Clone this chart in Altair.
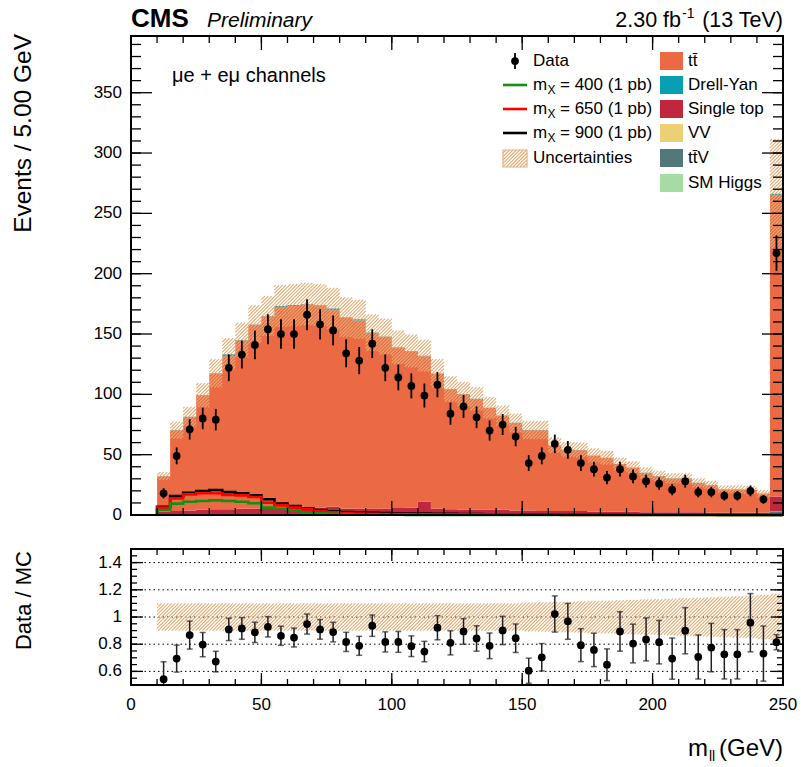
import altair as alt
import pandas as pd

# ---------------- values ----------------
BIN_LOW = list(range(10, 250, 5))          # 48 bins of 5 GeV, last one is the overflow bin
BIN_WIDTH = 5

DATA = [18, 49, 71, 80, 79, 122, 133, 141, 154, 150, 150, 166, 158, 153, 134, 128,
        142, 122, 114, 107, 99, 108, 84, 90, 81, 70, 75, 65, 43, 49, 59, 54, 43, 38,
        31, 38, 32, 28, 26, 21, 28, 19, 19, 16, 16, 20, 13, 217]

RATIO = [0.543, 0.694, 0.867, 0.797, 0.672, 0.909, 0.916, 0.887, 0.928, 0.862,
         0.849, 0.948, 0.909, 0.889, 0.817, 0.788, 0.936, 0.817, 0.817, 0.785,
         0.746, 0.921, 0.81, 0.894, 0.842, 0.788, 0.901, 0.844, 0.605, 0.704,
         1.022, 0.968, 0.793, 0.758, 0.649, 0.894, 0.805, 0.835, 0.815, 0.694,
         0.899, 0.706, 0.775, 0.726, 0.726, 0.958, 0.731, 0.815]

TTBAR = [29.4, 66.9, 77.4, 94.9, 112.4, 126.9, 139.4, 152.4, 159.4, 165.9,
         167.9, 168.9, 167.4, 162.9, 158.4, 155.9, 144.9, 142.4, 132.9, 129.4,
         120.4, 111.9, 99.4, 95.9, 91.9, 84.4, 77.9, 72.4, 66.4, 66.9,
         54.4, 50.9, 50.4, 46.4, 44.4, 39.4, 36.4, 32.5, 29.9, 27.9,
         27.9, 24.2, 22.8, 19.4, 19.4, 18.9, 15.9, 249.3]
DRELL_YAN = [0.2, 0.2, 0.2, 0.2, 0.3, 1.5, 0.3, 0.3, 0.3, 1.5, 0.8, 0.3, 0.3, 1.5, 0.3,
             1, 1, 0.3, 0.3, 0.3, 0.3, 0.2, 0.2, 0.2, 0.2, 0.2, 0.2, 0.2, 0.2, 0.2,
             0.2, 0.2, 0.2, 0.2, 0.2, 0.2, 0.2, 0.2, 0.2, 0.2, 0.2, 0.2, 0.2, 0.2,
             0.2, 0.2, 0.2, 1.5]
SINGLE_TOP = [2.5, 3, 3.5, 4, 4.5, 4.5, 5, 5, 5, 5.5, 5, 5.5, 6, 6.5, 5, 5, 5, 5, 5.5, 6,
              11, 5, 4.5, 4, 4, 4, 4, 3.5, 3.5, 3, 3, 3, 3, 2.5, 2.5, 2.5, 2.5, 2, 2, 2,
              2, 2, 1.5, 1.5, 1.5, 1.5, 1.5, 12.5]
TTV = [0.15] * 47 + [2.5]
VV = [0.08] * 47 + [0.3]
SM_HIGGS = [0.04] * 47 + [0.1]

REL_UNC = [0.1] * 28 + [0.105, 0.107, 0.11, 0.112, 0.115, 0.118, 0.12, 0.123, 0.126,
                         0.129, 0.132, 0.135, 0.138, 0.141, 0.144, 0.148, 0.151, 0.155,
                         0.163, 0.17]

SIG_400 = [4.1, 9.4, 11, 11.6, 12.1, 11.6, 11, 9.7, 6.1, 5.2, 3.9, 1.9, 1.4, 0.9, 0.6,
           0.4, 0.3, 0.2, 0.2, 0.1, 0.1, 0.1, 0.1, 0.1, 0.1, 0.1, 0.1, 0.1,
           0.05, 0.05, 0.05, 0.05, 0.05, 0.05, 0.05, 0.05, 0.05, 0.05,
           0.05, 0.05, 0.05, 0.05, 0.05, 0.05, 0.05, 0.05, 0.05, 0.05]
SIG_650 = [6.1, 13.8, 17.1, 18, 18, 16.6, 16.3, 14.9, 10.2, 8, 6.1, 4.7, 3.3, 2.2, 1.6,
           1.2, 1, 0.8, 0.7, 0.6, 0.5, 0.4, 0.4, 0.3, 0.3, 0.3, 0.2, 0.2, 0.2, 0.2, 0.2,
           0.1, 0.1, 0.1, 0.1, 0.1, 0.1, 0.1, 0.1, 0.1, 0.1, 0.1, 0.1, 0.1, 0.1, 0.1,
           0.1, 0.1]
SIG_900 = [6.9, 15.7, 18.5, 19.9, 20.7, 19, 18, 16.3, 13, 9.4, 7.5, 5.5, 4.1, 3, 2.5,
           2, 1.8, 1.6, 1.4, 1.2, 1.1, 1, 0.9, 0.8, 0.7, 0.6, 0.5, 0.5, 0.4, 0.4,
           0.4, 0.3, 0.3, 0.3, 0.3, 0.3, 0.2, 0.2, 0.2, 0.2, 0.2, 0.2, 0.2, 0.1, 0.1,
           0.1, 0.1, 0.1]

PROCESS_NAMES = ["SM Higgs", "ttV", "VV", "Single top", "ttbar", "Drell-Yan"]  # bottom first
PROCESS_VALUES = [SM_HIGGS, TTV, VV, SINGLE_TOP, TTBAR, DRELL_YAN]
PROCESS_COLORS = ["#A6DBA6", "#527879", "#EBD174", "#C0273E", "#EC6A43", "#06A0B2"]

Y_MAJOR = [0, 50, 100, 150, 200, 250, 300, 350]
Y_LABELS = ["0", "50", "100", "150", "200", "250", "300", "350"]
Y_MINOR = list(range(0, 400, 10))
X_MAJOR = [0, 50, 100, 150, 200, 250]
X_LABELS = ["0", "50", "100", "150", "200", "250"]
X_MINOR = list(range(0, 251, 10))
R_MAJOR = [0.6, 0.8, 1.0, 1.2, 1.4]
R_LABELS = ["0.6", "0.8", "1", "1.2", "1.4"]
R_MINOR = [0.5, 0.55, 0.6, 0.65, 0.7, 0.75, 0.8, 0.85, 0.9, 0.95, 1.0, 1.05, 1.1, 1.15,
           1.2, 1.25, 1.3, 1.35, 1.4, 1.45, 1.5]

# ---------------- layout / style ----------------
FONT = "Liberation Sans"
W, H1, H2 = 652, 479, 136
X_DOM, Y_DOM, R_DOM = [0, 250], [0, 397], [0.5, 1.5]
X_SCALE = alt.Scale(domain=X_DOM, nice=False, zero=False)
Y_TOP = alt.Scale(domain=Y_DOM, nice=False, zero=False)
Y_RAT = alt.Scale(domain=R_DOM, nice=False, zero=False)
HATCH = "#E4AC76"
HATCH_STEP = 3.4   # px between hatch lines (horizontal)

# ---------------- tables ----------------
rows = []
cum = [0.0] * len(BIN_LOW)
for name, vals in zip(PROCESS_NAMES, PROCESS_VALUES):
    for i, v in enumerate(vals):
        rows.append(dict(proc=name, x=BIN_LOW[i], y0=cum[i], y1=cum[i] + v))
        cum[i] += v
    rows.append(dict(proc=name, x=BIN_LOW[-1] + BIN_WIDTH, y0=rows[-1]["y0"], y1=rows[-1]["y1"]))
stack_df = pd.DataFrame(rows)
total = cum

band_top_rects = [(lo, lo + BIN_WIDTH, t * (1 - u), t * (1 + u))
                  for lo, t, u in zip(BIN_LOW, total, REL_UNC)]
band_rat_rects = [(lo, lo + BIN_WIDTH, 1 - u, 1 + u) for lo, u in zip(BIN_LOW, REL_UNC)]


def hatch_df(rects, ydom, height):
    """Diagonal (/) hatch lines clipped to each rectangle, built in pixel space."""
    sx = W / (X_DOM[1] - X_DOM[0])
    sy = height / (ydom[1] - ydom[0])
    segs = []
    for x0, x1, y0, y1 in rects:
        X0, X1 = (x0 - X_DOM[0]) * sx, (x1 - X_DOM[0]) * sx
        Y0, Y1 = (y0 - ydom[0]) * sy, (y1 - ydom[0]) * sy
        k = int((X0 - Y1) // HATCH_STEP) + 1
        while k * HATCH_STEP < X1 - Y0:
            c = k * HATCH_STEP
            xa, xb = max(X0, Y0 + c), min(X1, Y1 + c)
            if xb > xa:
                segs.append(dict(xa=xa / sx + X_DOM[0], ya=(xa - c) / sy + ydom[0],
                                 xb=xb / sx + X_DOM[0], yb=(xb - c) / sy + ydom[0]))
            k += 1
    return pd.DataFrame(segs)


pts_df = pd.DataFrame(dict(x=[b + BIN_WIDTH / 2 for b in BIN_LOW], d=DATA, r=RATIO))
pts_df["d0"] = pts_df["d"] - pts_df["d"] ** 0.5
pts_df["d1"] = pts_df["d"] + pts_df["d"] ** 0.5
pts_df["re"] = pts_df["r"] / pts_df["d"] ** 0.5
pts_df["r0"] = pts_df["r"] - pts_df["re"]
pts_df["r1"] = pts_df["r"] + pts_df["re"]


def signal_df(vals):
    seq = [(BIN_LOW[0], 0.0)] + list(zip(BIN_LOW, vals)) + [(BIN_LOW[-1] + BIN_WIDTH, vals[-1])]
    return pd.DataFrame([dict(x=xx, y=yy, k=k) for k, (xx, yy) in enumerate(seq)])


ONE = pd.DataFrame({"k": [0]})


def txt(s, x, y, size, align="left", baseline="middle", angle=0, weight="normal",
        style="normal", color="black"):
    return alt.Chart(ONE).mark_text(
        text=s, font=FONT, fontSize=size, align=align, baseline=baseline, angle=angle,
        fontWeight=weight, fontStyle=style, color=color
    ).encode(x=alt.value(x), y=alt.value(y))


def tick_layers(vals, orient, scale, length, height):
    df = pd.DataFrame({"v": vals})
    base = alt.Chart(df).mark_rule(color="black", strokeWidth=1.3)
    if orient == "y":
        enc = alt.Y("v:Q", scale=scale, axis=None)
        return [base.encode(y=enc, x=alt.value(0), x2=alt.value(length)),
                base.encode(y=enc, x=alt.value(W - length), x2=alt.value(W))]
    enc = alt.X("v:Q", scale=scale, axis=None)
    return [base.encode(x=enc, y=alt.value(0), y2=alt.value(length)),
            base.encode(x=enc, y=alt.value(height - length), y2=alt.value(height))]


def y_labels(vals, labels, scale):
    df = pd.DataFrame({"v": vals, "lab": labels})
    return alt.Chart(df).mark_text(font=FONT, fontSize=17, align="right", baseline="middle",
                                   color="black").encode(
        y=alt.Y("v:Q", scale=scale, axis=None), x=alt.value(-9), text="lab:N")


def hatch_layer(df, scale, clip=False):
    return alt.Chart(df).mark_rule(color=HATCH, strokeWidth=1.1, clip=clip).encode(
        x=alt.X("xa:Q", scale=X_SCALE, axis=None), x2="xb:Q",
        y=alt.Y("ya:Q", scale=scale, axis=None), y2="yb:Q")


def frame(height):
    return alt.Chart(ONE).mark_rect(fillOpacity=0, stroke="black", strokeWidth=2).encode(
        x=alt.value(0), x2=alt.value(W), y=alt.value(0), y2=alt.value(height))


# ---------------- top panel ----------------
color_scale = alt.Scale(domain=PROCESS_NAMES, range=PROCESS_COLORS)
stack = alt.Chart(stack_df).mark_area(interpolate="step-after", opacity=1).encode(
    x=alt.X("x:Q", scale=X_SCALE, axis=None),
    y=alt.Y("y0:Q", scale=Y_TOP, axis=None), y2="y1:Q",
    color=alt.Color("proc:N", scale=color_scale, legend=None))

band_top = hatch_layer(hatch_df(band_top_rects, Y_DOM, H1), Y_TOP)

signals = [
    alt.Chart(signal_df(vals)).mark_line(interpolate="step-after", strokeWidth=2.6, color=col).encode(
        x=alt.X("x:Q", scale=X_SCALE, axis=None),
        y=alt.Y("y:Q", scale=Y_TOP, axis=None), order="k:Q")
    for vals, col in [(SIG_900, "#000000"), (SIG_650, "#FF0000"), (SIG_400, "#139013")]
]

err_top = alt.Chart(pts_df).mark_rule(color="black", strokeWidth=1.8).encode(
    x=alt.X("x:Q", scale=X_SCALE, axis=None),
    y=alt.Y("d0:Q", scale=Y_TOP, axis=None), y2="d1:Q")
dots_top = alt.Chart(pts_df).mark_circle(color="black", opacity=1, size=60).encode(
    x=alt.X("x:Q", scale=X_SCALE, axis=None),
    y=alt.Y("d:Q", scale=Y_TOP, axis=None))

top_ticks = (tick_layers(Y_MINOR, "y", Y_TOP, 10, H1) + tick_layers(Y_MAJOR, "y", Y_TOP, 21, H1)
             + tick_layers(X_MINOR, "x", X_SCALE, 7, H1) + tick_layers(X_MAJOR, "x", X_SCALE, 14, H1))

# legend (positions in pixels inside the top panel)
L1S, L1T, L2S, L2T = 372, 402, 529, 557
legend = [
    alt.Chart(ONE).mark_rule(color="black", strokeWidth=1.8).encode(
        x=alt.value(L1S + 12), y=alt.value(17), y2=alt.value(33)),
    alt.Chart(ONE).mark_circle(color="black", opacity=1, size=60).encode(
        x=alt.value(L1S + 12), y=alt.value(25)),
    txt("Data", L1T, 25, 17),
]
for yy, col, mass in [(49, "#139013", "400"), (73, "#FF0000", "650"), (97, "#000000", "900")]:
    legend += [
        alt.Chart(ONE).mark_rule(color=col, strokeWidth=2.6).encode(
            x=alt.value(L1S), x2=alt.value(L1S + 24), y=alt.value(yy)),
        txt("m", L1T, yy, 17),
        txt("X", L1T + 14.5, yy + 5, 12),
        txt("= %s (1 pb)" % mass, L1T + 27, yy, 17),
    ]
# hatched legend swatch: pixel box converted to the panel's data units
sx_, sy_ = W / (X_DOM[1] - X_DOM[0]), H1 / (Y_DOM[1] - Y_DOM[0])
swatch = (L1S / sx_, (L1S + 24) / sx_, (H1 - 131) / sy_, (H1 - 114) / sy_)
legend += [
    hatch_layer(hatch_df([swatch], Y_DOM, H1), Y_TOP),
    alt.Chart(ONE).mark_rect(fillOpacity=0, stroke="#E2B486", strokeWidth=1.2).encode(
        x=alt.value(L1S), x2=alt.value(L1S + 24), y=alt.value(114), y2=alt.value(131)),
    txt("Uncertainties", L1T, 122, 17),
]
for yy, col, lab in [(25, "#EC6A43", "tt\u0304"), (49, "#06A0B2", "Drell-Yan"),
                     (73, "#C0273E", "Single top"), (97, "#EBD174", "VV"),
                     (122, "#527879", " tt\u0304V"), (147, "#A6DBA6", "SM Higgs")]:
    legend += [
        alt.Chart(ONE).mark_rect(color=col).encode(
            x=alt.value(L2S), x2=alt.value(L2S + 23), y=alt.value(yy - 9), y2=alt.value(yy + 9)),
        txt(lab, L2T, yy, 17),
    ]

top_texts = [
    txt("CMS", 0, -9, 26, baseline="alphabetic", weight="bold"),
    txt("Preliminary", 76, -9, 21, baseline="alphabetic", style="italic"),
    txt("2.30 fb", 550, -9, 21.5, align="right", baseline="alphabetic"),
    txt("-1", 551, -18, 14, baseline="alphabetic"),
    txt("(13 TeV)", 652, -9, 21.5, align="right", baseline="alphabetic"),
    txt("\u03bce + e\u03bc channels", 41, 40, 20),
    txt("Events / 5.00 GeV", -100, -2, 24.5, align="right", baseline="alphabetic", angle=270),
    y_labels(Y_MAJOR, Y_LABELS, Y_TOP),
]

top = alt.layer(stack, band_top, *signals, err_top, dots_top, *top_ticks, frame(H1),
                *legend, *top_texts).properties(width=W, height=H1)

# ---------------- ratio panel ----------------
grid = alt.Chart(pd.DataFrame({"v": R_MAJOR})).mark_rule(
    color="black", strokeWidth=1, strokeDash=[1.5, 3]).encode(
    y=alt.Y("v:Q", scale=Y_RAT, axis=None), x=alt.value(0), x2=alt.value(W))

band_rat = hatch_layer(hatch_df(band_rat_rects, R_DOM, H2), Y_RAT)

err_rat = alt.Chart(pts_df).mark_rule(color="#222222", strokeWidth=1.5, clip=True).encode(
    x=alt.X("x:Q", scale=X_SCALE, axis=None),
    y=alt.Y("r0:Q", scale=Y_RAT, axis=None), y2="r1:Q")
cap_lo = alt.Chart(pts_df).mark_tick(color="#222222", orient="horizontal", size=6,
                                      thickness=1.5, clip=True).encode(
    x=alt.X("x:Q", scale=X_SCALE, axis=None), y=alt.Y("r0:Q", scale=Y_RAT, axis=None))
cap_hi = alt.Chart(pts_df).mark_tick(color="#222222", orient="horizontal", size=6,
                                      thickness=1.5, clip=True).encode(
    x=alt.X("x:Q", scale=X_SCALE, axis=None), y=alt.Y("r1:Q", scale=Y_RAT, axis=None))
dots_rat = alt.Chart(pts_df).mark_circle(color="black", opacity=1, size=60, clip=True).encode(
    x=alt.X("x:Q", scale=X_SCALE, axis=None),
    y=alt.Y("r:Q", scale=Y_RAT, axis=None))

rat_ticks = (tick_layers(R_MINOR, "y", Y_RAT, 6, H2) + tick_layers(R_MAJOR, "y", Y_RAT, 12, H2)
             + tick_layers(X_MINOR, "x", X_SCALE, 6, H2) + tick_layers(X_MAJOR, "x", X_SCALE, 12, H2))

x_labels = alt.Chart(pd.DataFrame({"v": X_MAJOR, "lab": X_LABELS})).mark_text(
    font=FONT, fontSize=17, align="center", baseline="top", color="black").encode(
    x=alt.X("v:Q", scale=X_SCALE, axis=None), y=alt.value(H2 + 12), text="lab:N")

rat_texts = [
    txt("Data / MC", -100, 2, 22, align="right", baseline="alphabetic", angle=270),
    txt("m", 557, 207, 24, baseline="alphabetic"),
    txt("ll", 578, 212, 14, baseline="alphabetic"),
    txt("(GeV)", 652, 207, 24, align="right", baseline="alphabetic"),
    y_labels(R_MAJOR, R_LABELS, Y_RAT),
    x_labels,
]

bottom = alt.layer(grid, band_rat, err_rat, cap_lo, cap_hi, dots_rat, *rat_ticks, frame(H2),
                   *rat_texts).properties(width=W, height=H2)

chart = alt.vconcat(top, bottom, spacing=25).properties(
    padding={"left": 11, "top": 6, "right": 0, "bottom": 0}
).configure_view(stroke=None)

chart.save("out.html", embed_options={"renderer": "svg", "actions": False})
